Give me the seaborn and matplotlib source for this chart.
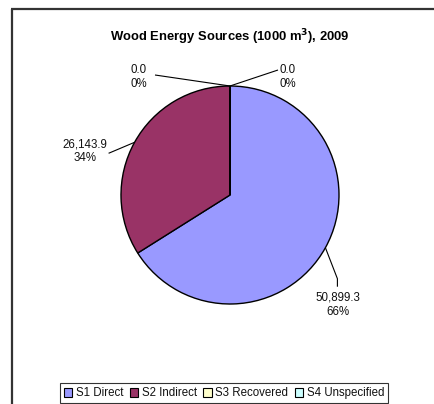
import numpy as np
import matplotlib
matplotlib.use("Agg")
import matplotlib.pyplot as plt
from matplotlib.patches import Patch
import seaborn as sns

# data
CATEGORIES = ["S1 Direct", "S2 Indirect", "S3 Recovered", "S4 Unspecified"]
VALUES = [50899.3, 26143.9, 0.0, 0.0]
COLORS = ["#9999FF", "#993366", "#FFFFCC", "#CCFFFF"]
TITLE = "Wood Energy Sources (1000 m$^\\mathbf{3}$), 2009"

W, H = 435, 404
CX, CY, R = 230, H - 195, 109   # pie centre / radius in pixels (y up)

sns.set_theme(style="white")
plt.rcParams["font.family"] = ["Liberation Sans", "DejaVu Sans"]

fig = plt.figure(figsize=(W / 100, H / 100), dpi=100)
ax = fig.add_axes([0, 0, 1, 1])

pal = sns.color_palette(COLORS)
wedges, _ = ax.pie(VALUES, colors=pal, startangle=90, counterclock=False,
                   center=(CX, CY), radius=R,
                   wedgeprops=dict(edgecolor="black", linewidth=1.0))
ax.set_xlim(0, W)
ax.set_ylim(0, H)
ax.set_aspect("equal")
ax.axis("off")

# label layout: (text dx, dy, leader points relative to anchor) in pixels
LAYOUT = [
    dict(text=(13, -57), path=[(0, 0), (12, -31), (12, -39)]),
    dict(text=(-50, -9), path=[(0, 0), (-26, -11)]),
    dict(text=(-91, 9), path=[(0, 0), (-75, 11)]),
    dict(text=(58, 9), path=[(0, 0), (48, 16)]),
]
total = sum(VALUES)
for w, v, lay in zip(wedges, VALUES, LAYOUT):
    ang = np.deg2rad((w.theta1 + w.theta2) / 2)
    ax_, ay_ = CX + R * np.cos(ang), CY + R * np.sin(ang)
    pts = np.array(lay["path"], dtype=float) + [ax_, ay_]
    ax.plot(pts[:, 0], pts[:, 1], color="black", lw=0.8, solid_capstyle="butt")
    tx, ty = ax_ + lay["text"][0], ay_ + lay["text"][1]
    ax.text(tx, ty, f"{v:,.1f}\n{v / total:.0%}", ha="center", va="center",
            fontsize=8.3, color="#111111", linespacing=1.25)

fig.text(CX / W, 1 - 37 / H, TITLE, ha="center", va="center",
         fontsize=9.4, fontweight="bold", color="black")

# outer chart-area border: only top and left edges fall inside the crop
ax.plot([11.5, W - 0.5], [H - 8.5, H - 8.5], color="#333333", linewidth=1.6,
        solid_capstyle="butt")
ax.plot([12.5, 12.5], [0.5, H - 8.5], color="#333333", linewidth=1.6,
        solid_capstyle="butt")

handles = [Patch(facecolor=c, edgecolor="black", linewidth=0.8) for c in COLORS]
leg = fig.legend(handles, CATEGORIES, ncol=4, loc="lower center",
                 bbox_to_anchor=(224 / W, 0.0), fontsize=8.3, frameon=True,
                 fancybox=False, edgecolor="black", handlelength=0.75,
                 handleheight=0.75, handletextpad=0.3, columnspacing=0.55,
                 borderpad=0.35, borderaxespad=0.05)
leg.get_frame().set_linewidth(0.8)
for t in leg.get_texts():
    t.set_color("#111111")

fig.savefig("out.png", dpi=100)
